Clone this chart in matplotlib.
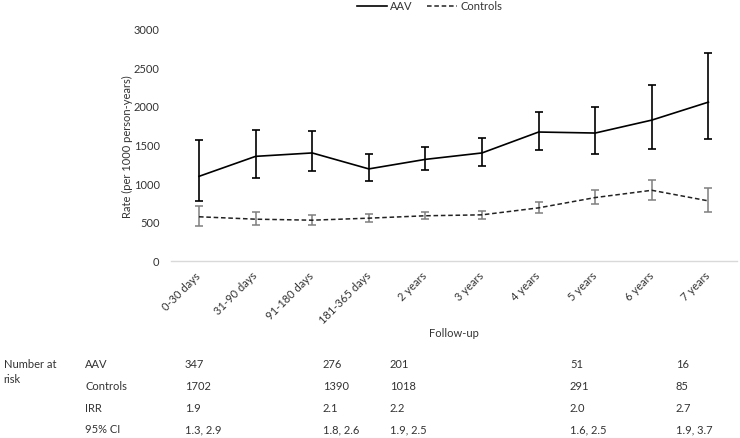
import matplotlib.pyplot as plt
from matplotlib.lines import Line2D
import numpy as np

plt.rcParams['font.family'] = ['Lato', 'DejaVu Sans']

# Data
categories = ["0-30 days", "31-90 days", "91-180 days", "181-365 days", "2 years",
              "3 years", "4 years", "5 years", "6 years", "7 years"]
aav_rate = [1089, 1347, 1391, 1185, 1308, 1391, 1661, 1648, 1815, 2047]
aav_lo = [767, 1073, 1154, 1025, 1172, 1227, 1433, 1373, 1446, 1566]
aav_hi = [1553, 1687, 1678, 1378, 1463, 1584, 1918, 1978, 2270, 2682]
ctrl_rate = [567, 536, 523, 549, 580, 592, 682, 815, 909, 772]
ctrl_lo = [451, 459, 459, 497, 541, 541, 618, 729, 789, 626]
ctrl_hi = [703, 626, 596, 603, 631, 648, 760, 918, 1047, 944]

row_labels = ["AAV", "Controls", "IRR", "95% CI"]
table_aav = ["347", "276", "201", "51", "16"]
table_ctrl = ["1702", "1390", "1018", "291", "85"]
table_irr = ["1.9", "2.1", "2.2", "2.0", "2.7"]
table_ci = ["1.3, 2.9", "1.8, 2.6", "1.9, 2.5", "1.6, 2.5", "1.9, 3.7"]

FS = 8.0
TXT = "#333333"
W, H = 740, 439
fig = plt.figure(figsize=(W / 100, H / 100), dpi=100)
ax = fig.add_axes([170.7 / W, 1 - 261.7 / H, 566 / W, 232.4 / H])

x = np.arange(len(categories))
aav_err = [np.array(aav_rate) - np.array(aav_lo), np.array(aav_hi) - np.array(aav_rate)]
ctrl_err = [np.array(ctrl_rate) - np.array(ctrl_lo), np.array(ctrl_hi) - np.array(ctrl_rate)]
dash = (0, (3, 1.8))

ax.errorbar(x, aav_rate, yerr=aav_err, color="black", lw=1.2, elinewidth=1.2,
            capsize=3.2, capthick=1.2)
ax.errorbar(x, ctrl_rate, yerr=ctrl_err, color="#222222", lw=1.1, ls=dash,
            ecolor="#7f7f7f", elinewidth=1.1, capsize=3.0, capthick=1.1)

ax.set_xlim(-0.5, len(categories) - 0.5)
ax.set_ylim(0, 3000)
ax.set_yticks([0, 500, 1000, 1500, 2000, 2500, 3000])
ax.tick_params(axis="y", length=0, labelsize=FS, colors=TXT, pad=8)
ax.tick_params(axis="x", length=0, labelsize=FS, colors=TXT, pad=9)
ax.set_xticks(x)
ax.set_xticklabels(categories, rotation=45, ha="right", va="center", rotation_mode="anchor")
for s in ["top", "right", "left"]:
    ax.spines[s].set_visible(False)
ax.spines["bottom"].set_color("#d9d9d9")
ax.spines["bottom"].set_linewidth(1.0)

fig.text(127.7 / W, 1 - 146.7 / H, "Rate (per 1000 person-years)", rotation=90,
         ha="center", va="center", fontsize=FS, color=TXT)
fig.text(454 / W, 1 - 334 / H, "Follow-up", ha="center", va="center", fontsize=FS, color=TXT)

handles = [Line2D([], [], color="black", lw=1.2),
           Line2D([], [], color="#222222", lw=1.1, ls=dash)]
leg = fig.legend(handles, ["AAV", "Controls"], loc="center", bbox_to_anchor=(429.5 / W, 1 - 7 / H),
                 ncol=2, frameon=False, fontsize=FS, handlelength=2.7, handletextpad=0.3,
                 columnspacing=1.3)
for t in leg.get_texts():
    t.set_color(TXT)

# Number at risk table
col_x = [185, 323, 390, 570, 676]
row_y = [364.7, 386.7, 408.3, 430]
fig.text(3.5 / W, 1 - 364.7 / H, "Number at", ha="left", va="center", fontsize=FS, color=TXT)
fig.text(3.5 / W, 1 - 379.3 / H, "risk", ha="left", va="center", fontsize=FS, color=TXT)
for lab, ry, vals in zip(row_labels, row_y, [table_aav, table_ctrl, table_irr, table_ci]):
    fig.text(85 / W, 1 - ry / H, lab, ha="left", va="center", fontsize=FS, color=TXT)
    for cx, v in zip(col_x, vals):
        fig.text(cx / W, 1 - ry / H, v, ha="left", va="center", fontsize=FS, color=TXT)

fig.savefig("out.png", dpi=100)
